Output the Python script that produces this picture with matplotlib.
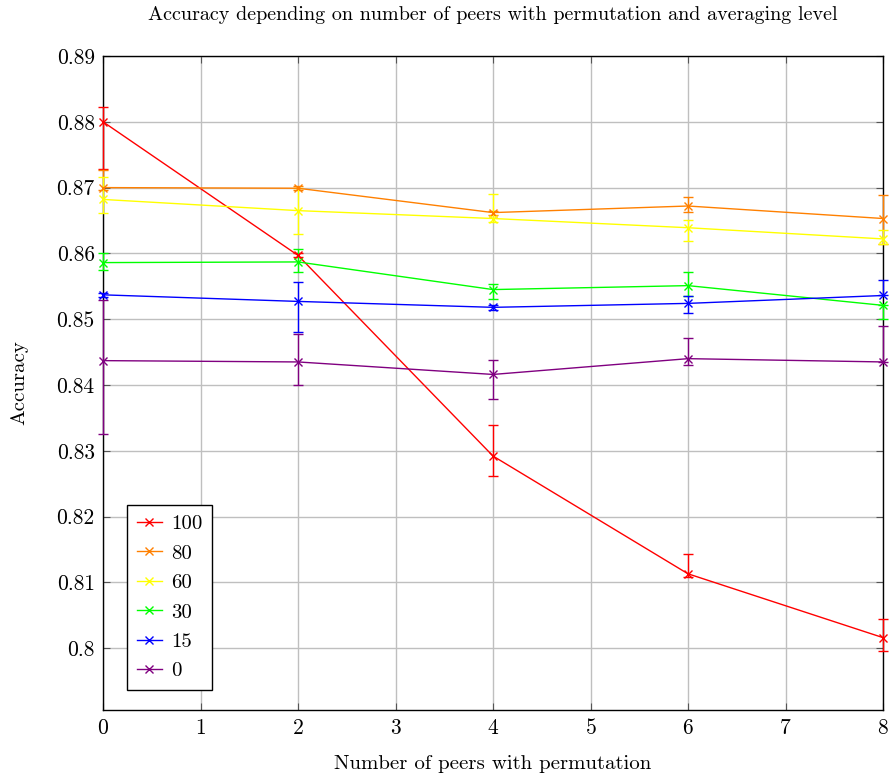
import numpy as np
import matplotlib
matplotlib.use('Agg')
import matplotlib.pyplot as plt

plt.rcParams['font.family'] = 'serif'
plt.rcParams['font.serif'] = ['cmr10', 'DejaVu Serif']
plt.rcParams['mathtext.fontset'] = 'cm'
plt.rcParams['axes.formatter.use_mathtext'] = True

peers = [0, 2, 4, 6, 8]
labels = ['100', '80', '60', '30', '15', '0']
colors = ['#ff0000', '#ff8000', '#ffff00', '#00ff00', '#0000ff', '#800080']

# mean accuracy for each averaging level
acc_100 = [0.8800, 0.8597, 0.8292, 0.8113, 0.8016]
acc_80 = [0.8700, 0.8699, 0.8662, 0.8672, 0.8653]
acc_60 = [0.8682, 0.8665, 0.8653, 0.8639, 0.8622]
acc_30 = [0.8586, 0.8587, 0.8545, 0.8551, 0.8521]
acc_15 = [0.8537, 0.8527, 0.8518, 0.8524, 0.8536]
acc_0 = [0.8437, 0.8435, 0.8416, 0.8440, 0.8435]

# lower / upper end of the error bars
lo_100 = [0.8729, 0.8594, 0.8262, 0.8108, 0.7996]
hi_100 = [0.8822, 0.8601, 0.8339, 0.8143, 0.8044]
lo_80 = [0.8697, 0.8696, 0.8659, 0.8663, 0.8614]
hi_80 = [0.8727, 0.8702, 0.8665, 0.8685, 0.8688]
lo_60 = [0.8662, 0.8629, 0.8648, 0.8619, 0.8614]
hi_60 = [0.8716, 0.8699, 0.8690, 0.8650, 0.8635]
lo_30 = [0.8575, 0.8572, 0.8531, 0.8535, 0.8501]
hi_30 = [0.8601, 0.8606, 0.8553, 0.8572, 0.8521]
lo_15 = [0.8534, 0.8481, 0.8514, 0.8509, 0.8536]
hi_15 = [0.8540, 0.8556, 0.8521, 0.8535, 0.8560]
lo_0 = [0.8326, 0.8400, 0.8379, 0.8430, 0.8435]
hi_0 = [0.8529, 0.8477, 0.8438, 0.8471, 0.8490]

series = [(acc_100, lo_100, hi_100), (acc_80, lo_80, hi_80), (acc_60, lo_60, hi_60),
          (acc_30, lo_30, hi_30), (acc_15, lo_15, hi_15), (acc_0, lo_0, hi_0)]

fig = plt.figure(figsize=(8.9, 7.76), dpi=100)
ax = fig.add_axes([103/890, 1-710/776, 780/890, 654/776])

handles = []
for (acc, lo, hi), lab, c in zip(series, labels, colors):
    acc = np.array(acc)
    yerr = [acc - np.array(lo), np.array(hi) - acc]
    eb = ax.errorbar(peers, acc, yerr=yerr, color=c, lw=1, marker='x', ms=5.5, mew=1,
                     capsize=3.5, capthick=1, elinewidth=1, label=lab, clip_on=False, zorder=3)
    handles.append(eb[0])

ax.set_xlim(0, 8)
ax.set_ylim(0.7906, 0.89)
ax.set_xticks(range(9))
yt = [0.8, 0.81, 0.82, 0.83, 0.84, 0.85, 0.86, 0.87, 0.88, 0.89]
ax.set_yticks(yt)
ax.set_yticklabels(['0.8'] + ['%.2f' % v for v in yt[1:]])
ax.grid(True, color='#bfbfbf', lw=1)
ax.set_axisbelow(True)
ax.tick_params(direction='in', top=True, right=True, labelsize=15.5, length=5,
               color='#555555', pad=6)
for s in ax.spines.values():
    s.set_linewidth(1)

ax.set_xlabel('Number of peers with permutation', fontsize=15, labelpad=12)
ax.set_ylabel('Accuracy', fontsize=15, labelpad=20)
ax.set_title('Accuracy depending on number of peers with permutation and averaging level',
             fontsize=14.5, pad=26)

leg = ax.legend(handles, labels, loc='lower left', bbox_to_anchor=(0.031, 0.031), fontsize=15,
                fancybox=False, edgecolor='black', framealpha=1, handlelength=1.2,
                borderpad=0.45, labelspacing=0.52, handletextpad=0.45, borderaxespad=0)
leg.get_frame().set_linewidth(1)

fig.savefig('out.png', dpi=100)
